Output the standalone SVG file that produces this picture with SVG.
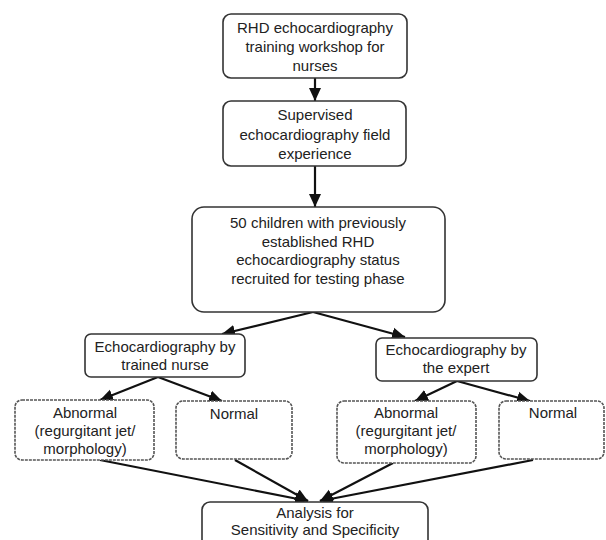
<svg xmlns="http://www.w3.org/2000/svg" width="606" height="540" viewBox="0 0 606 540">
<style>
.box{fill:#fff;stroke:#333;stroke-width:1.6}
.dbox{fill:#fff;stroke:#555;stroke-width:1.6;stroke-dasharray:3 1}
.t{font-family:"Liberation Sans",Arial,sans-serif;font-size:15px;fill:#222;text-anchor:middle}
.c{stroke:#111;stroke-width:2.2;fill:none}
</style>
<defs>
<marker id="ah" markerUnits="userSpaceOnUse" markerWidth="14" markerHeight="14" viewBox="0 0 14 14" refX="13" refY="7" orient="auto">
<path d="M0,1 L13,7 L0,13 z" fill="#111"/>
</marker>
</defs>
<rect width="606" height="540" fill="#fff"/>
<g id="connectors">
<line class="c" x1="315" y1="78" x2="315" y2="101" marker-end="url(#ah)"/>
<line class="c" x1="315" y1="166" x2="315" y2="207" marker-end="url(#ah)"/>
<line class="c" x1="313" y1="312" x2="222" y2="334" marker-end="url(#ah)"/>
<line class="c" x1="313" y1="312" x2="405" y2="337" marker-end="url(#ah)"/>
<line class="c" x1="158" y1="377" x2="100" y2="400" marker-end="url(#ah)"/>
<line class="c" x1="158" y1="377" x2="222" y2="401" marker-end="url(#ah)"/>
<line class="c" x1="457" y1="381" x2="415" y2="401" marker-end="url(#ah)"/>
<line class="c" x1="457" y1="381" x2="530" y2="401" marker-end="url(#ah)"/>
<line class="c" x1="100" y1="460" x2="308" y2="501" marker-end="url(#ah)"/>
<line class="c" x1="235" y1="460" x2="308" y2="501" marker-end="url(#ah)"/>
<line class="c" x1="393" y1="463" x2="320" y2="501" marker-end="url(#ah)"/>
<line class="c" x1="533" y1="460" x2="320" y2="501" marker-end="url(#ah)"/>
</g>
<g id="workshop">
<rect class="box" x="223" y="14" width="184" height="64" rx="8"/>
<text class="t" x="315" y="33">RHD echocardiography</text>
<text class="t" x="315" y="52">training workshop  for</text>
<text class="t" x="315" y="71">nurses</text>
</g>
<g id="supervised">
<rect class="box" x="223" y="101" width="183" height="65" rx="8"/>
<text class="t" x="315" y="120">Supervised</text>
<text class="t" x="315" y="140">echocardiography field</text>
<text class="t" x="315" y="159">experience</text>
</g>
<g id="children">
<rect class="box" x="192" y="207" width="253" height="105" rx="12"/>
<text class="t" x="318" y="228">50 children with previously</text>
<text class="t" x="318" y="247">established RHD</text>
<text class="t" x="318" y="265">echocardiography  status</text>
<text class="t" x="318" y="284">recruited for testing phase</text>
</g>
<g id="nurse">
<rect class="box" x="85" y="334" width="160" height="43" rx="6"/>
<text class="t" x="165" y="352">Echocardiography by</text>
<text class="t" x="165" y="370">trained nurse</text>
</g>
<g id="expert">
<rect class="box" x="376" y="338" width="161" height="43" rx="6"/>
<text class="t" x="456" y="355">Echocardiography  by</text>
<text class="t" x="456" y="373">the expert</text>
</g>
<g id="nurse-abnormal">
<rect class="dbox" x="15" y="400" width="139" height="60" rx="7"/>
<text class="t" x="85" y="418">Abnormal</text>
<text class="t" x="85" y="436">(regurgitant jet/</text>
<text class="t" x="85" y="454">morphology)</text>
</g>
<g id="nurse-normal">
<rect class="dbox" x="176" y="401" width="116" height="58" rx="7"/>
<text class="t" x="234" y="419">Normal</text>
</g>
<g id="expert-abnormal">
<rect class="dbox" x="337" y="401" width="139" height="62" rx="7"/>
<text class="t" x="406" y="418">Abnormal</text>
<text class="t" x="406" y="436">(regurgitant jet/</text>
<text class="t" x="406" y="454">morphology)</text>
</g>
<g id="expert-normal">
<rect class="dbox" x="499" y="401" width="105" height="58" rx="7"/>
<text class="t" x="553" y="418">Normal</text>
</g>
<g id="analysis">
<rect class="box" x="202" y="502" width="226" height="50" rx="8"/>
<text class="t" x="315" y="518">Analysis for</text>
<text class="t" x="315" y="535">Sensitivity and Specificity</text>
</g>
</svg>
